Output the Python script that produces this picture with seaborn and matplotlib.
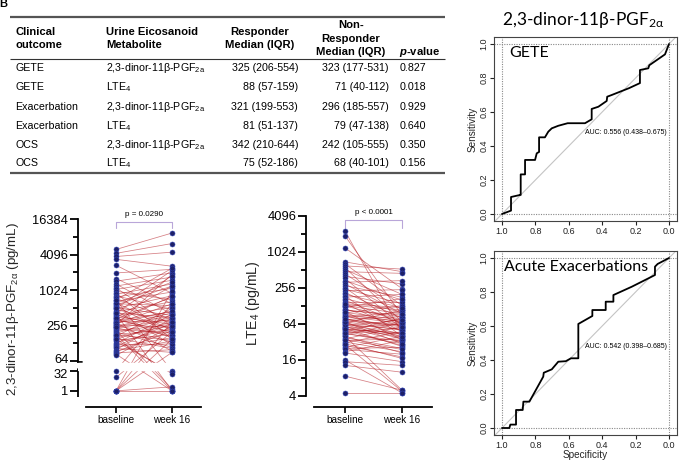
import numpy as np
import pandas as pd
import matplotlib
matplotlib.use("Agg")
import matplotlib.pyplot as plt
import matplotlib.transforms as mtrans
import seaborn as sns

# ---------------- data ----------------
tab_outcome = ["GETE", "GETE", "Exacerbation", "Exacerbation", "OCS", "OCS"]
PGF = r"2,3-dinor-11β-PGF$_{\mathregular{2a}}$"
LTE = r"LTE$_{\mathregular{4}}$"
tab_metab = [PGF, LTE, PGF, LTE, PGF, LTE]
tab_resp = ["325 (206-554)", "88 (57-159)", "321 (199-553)", "81 (51-137)", "342 (210-644)", "75 (52-186)"]
tab_nonresp = ["323 (177-531)", "71 (40-112)", "296 (185-557)", "79 (47-138)", "242 (105-555)", "68 (40-101)"]
tab_p = ["0.827", "0.018", "0.929", "0.640", "0.350", "0.156"]

time_labels = ["baseline", "week 16"]

pgf_base = [5000, 4300, 3800, 3400, 2700, 2000, 1600, 1450, 1300, 1200,
            1120, 1050, 980, 920, 870, 820, 780, 740, 700, 660,
            630, 600, 570, 545, 520, 500, 480, 460, 440, 420,
            405, 390, 375, 360, 345, 332, 320, 308, 296, 285,
            275, 265, 256, 247, 238, 230, 222, 214, 206, 198,
            190, 183, 176, 169, 162, 156, 150, 144, 138, 132,
            126, 120, 115, 110, 105, 100, 96, 92, 88, 84,
            80, 32, 10, 1, 1, 1, 1, 1, 1, 350,
            300, 280, 260, 240, 420, 500, 610, 700, 180, 150]
pgf_w16 = [9500, 6300, 4500, 2600, 900, 2300, 600, 2000, 400, 1700,
           250, 1500, 700, 150, 1300, 480, 1100, 320, 30, 950,
           210, 560, 1200, 180, 380, 820, 290, 120, 650, 350,
           1, 230, 520, 270, 160, 780, 200, 440, 310, 95,
           600, 240, 170, 420, 135, 330, 190, 1.4, 270, 110,
           360, 215, 145, 500, 260, 105, 300, 180, 24, 230,
           400, 125, 280, 160, 90, 340, 140, 210, 100, 1,
           250, 600, 200, 150, 90, 300, 1000, 1, 2, 1200,
           800, 450, 1900, 380, 1800, 2200, 1400, 2400, 1, 19]

lte_base = [2300, 1900, 1200, 700, 650, 600, 560, 520, 480, 440,
            400, 370, 340, 320, 300, 280, 260, 245, 230, 215,
            200, 190, 180, 170, 160, 150, 142, 135, 128, 121,
            115, 109, 103, 98, 93, 88, 84, 80, 76, 72,
            69, 66, 63, 60, 57, 55, 52, 50, 48, 46,
            44, 42, 40, 38, 36, 34, 32, 31, 29, 28,
            26, 25, 24, 22, 21, 16, 15, 13, 8.6, 4.5,
            90, 75, 65, 58, 110, 130, 54, 47, 62, 85,
            40, 30, 70, 100, 140, 35, 45, 52, 68, 78]
lte_w16 = [45, 90, 250, 480, 130, 530, 70, 200, 450, 110,
           300, 60, 160, 340, 95, 180, 55, 140, 240, 80,
           120, 40, 200, 100, 65, 150, 48, 110, 75, 170,
           58, 90, 35, 130, 70, 50, 100, 42, 85, 60,
           30, 110, 52, 75, 38, 64, 45, 28, 80, 55,
           33, 68, 5, 25, 58, 36, 22, 48, 4.8, 18,
           40, 26, 20, 34, 15, 4.5, 13, 10, 5, 4.5,
           70, 62, 40, 32, 85, 95, 27, 44, 36, 66,
           21, 17, 50, 74, 120, 24, 30, 46, 39, 57]

pgf_yticks = [1, 32, 64, 256, 1024, 4096, 16384]
lte_yticks = [4, 16, 64, 256, 1024, 4096]

gete_spec = [1.00, 0.946, 0.946, 0.892, 0.888, 0.888, 0.862, 0.862, 0.802, 0.792,
             0.778, 0.778, 0.743, 0.723, 0.702, 0.663, 0.607, 0.503, 0.463, 0.463,
             0.423, 0.373, 0.370, 0.343, 0.240, 0.174, 0.174, 0.124, 0.118, 0.024, 0.00]
gete_sens = [0.00, 0.020, 0.100, 0.112, 0.112, 0.233, 0.233, 0.318, 0.318, 0.357,
             0.365, 0.451, 0.451, 0.484, 0.504, 0.519, 0.534, 0.534, 0.557, 0.618,
             0.631, 0.665, 0.690, 0.700, 0.740, 0.770, 0.847, 0.857, 0.875, 0.939, 1.00]
exac_spec = [1.00, 0.956, 0.950, 0.916, 0.916, 0.876, 0.872, 0.836, 0.753, 0.750,
             0.702, 0.663, 0.618, 0.587, 0.543, 0.543, 0.459, 0.459, 0.379, 0.379,
             0.333, 0.333, 0.223, 0.124, 0.084, 0.084, 0.068, 0.00]
exac_sens = [0.00, 0.00, 0.02, 0.02, 0.106, 0.106, 0.155, 0.155, 0.302, 0.325,
             0.345, 0.39, 0.393, 0.41, 0.41, 0.612, 0.659, 0.694, 0.694, 0.743,
             0.743, 0.782, 0.831, 0.88, 0.90, 0.949, 0.965, 1.00]
roc_ticks = [1.0, 0.8, 0.6, 0.4, 0.2, 0.0]

# ---------------- style ----------------
sns.set_theme(style="ticks")
plt.rcParams["font.family"] = ["Liberation Sans", "DejaVu Sans"]
plt.rcParams["mathtext.fontset"] = "custom"
plt.rcParams["mathtext.rm"] = "Liberation Sans"
plt.rcParams["mathtext.it"] = "Liberation Sans:italic"
plt.rcParams["mathtext.bf"] = "Liberation Sans:bold"
try:
    plt.rcParams["mathtext.bfit"] = "Liberation Sans:italic:bold"
except Exception:
    pass
plt.rcParams["text.color"] = "black"
plt.rcParams["axes.edgecolor"] = "black"
plt.rcParams["xtick.color"] = "black"
plt.rcParams["ytick.color"] = "black"

W, H = 680, 462
fig = plt.figure(figsize=(W / 100, H / 100), dpi=100)


def px_axes(x0, y0, x1, y1):
    return fig.add_axes([x0 / W, 1 - y1 / H, (x1 - x0) / W, (y1 - y0) / H])


# ---------------- table ----------------
tab = fig.add_axes([0, 0, 1, 1])
tab.set_xlim(0, W)
tab.set_ylim(H, 0)
tab.axis("off")
tab.text(-1, -1, "B", fontsize=8, fontweight="bold", ha="left", va="top")
hfs = 8.1
rfs = 7.7
tab.hlines(17.3, 10, 445, color="#555555", lw=1.6)
tab.hlines(59, 10, 445, color="#333333", lw=0.8)
tab.hlines(173, 10, 445, color="#555555", lw=1.6)
for y, t in [(32, "Clinical"), (45, "outcome")]:
    tab.text(15, y, t, fontsize=hfs, fontweight="bold", va="center")
for y, t in [(32, "Urine Eicosanoid"), (45, "Metabolite")]:
    tab.text(106, y, t, fontsize=hfs, fontweight="bold", va="center")
for y, t in [(32, "Responder"), (45, "Median (IQR)")]:
    tab.text(260, y, t, fontsize=hfs, fontweight="bold", va="center", ha="center")
for y, t in [(25, "Non-"), (39, "Responder"), (52, "Median (IQR)")]:
    tab.text(351, y, t, fontsize=hfs, fontweight="bold", va="center", ha="center")
tab.text(399, 52, r"$\mathbfit{p}$-value", fontsize=hfs, fontweight="bold", va="center")
row_y = [68, 87, 107, 126, 144.5, 163.5]
for i, y in enumerate(row_y):
    tab.text(15, y, tab_outcome[i], fontsize=rfs, va="center")
    tab.text(106, y, tab_metab[i], fontsize=rfs, va="center")
    tab.text(298, y, tab_resp[i], fontsize=rfs, va="center", ha="right")
    tab.text(389, y, tab_nonresp[i], fontsize=rfs, va="center", ha="right")
    tab.text(400, y, tab_p[i], fontsize=rfs, va="center")

# ---------------- paired plots ----------------
RED = "#b3141c"
NAVY = "#1d2068"
EDGE = "#3548b8"

# broken log2 axis (GraphPad-like): 1..32 compressed, 64.. full
U32 = 6 - 9.5 / 17.6
U1 = 6 - 29.5 / 17.6
SL = (U32 - U1) / 5.0


def fwd(v):
    L = np.log2(np.clip(np.asarray(v, dtype=float), 1e-9, None))
    return np.where(L >= 6, L, np.where(L <= 5, U1 + SL * L, U32 + (L - 5) * (6 - U32)))


def inv(u):
    u = np.asarray(u, dtype=float)
    L = np.where(u >= 6, u, np.where(u <= U32, (u - U1) / SL, 5 + (u - U32) / (6 - U32)))
    return np.power(2.0, L)


def paired(ax, base, w16):
    n = len(base)
    df = pd.DataFrame({
        "id": np.r_[np.arange(n), np.arange(n)],
        "t": np.r_[np.zeros(n), np.ones(n)],
        "v": np.r_[np.asarray(base, float), np.asarray(w16, float)],
    })
    sns.lineplot(data=df, x="t", y="v", units="id", estimator=None, color=RED,
                 lw=0.55, alpha=0.55, ax=ax, legend=False, zorder=1)
    sns.scatterplot(data=df, x="t", y="v", color=NAVY, s=13, edgecolor=EDGE,
                    linewidth=0.4, ax=ax, legend=False, zorder=4, clip_on=False)


def style_paired(ax, xl, xr):
    ax.set_xlim(xl, xr)
    ax.set_xticks([0, 1], time_labels)
    ax.spines["top"].set_visible(False)
    ax.spines["right"].set_visible(False)
    ax.spines["bottom"].set_linewidth(1.3)
    ax.spines["left"].set_linewidth(1.3)
    ax.tick_params(axis="x", labelsize=7.2, length=4, width=1.2, pad=2)
    ax.tick_params(axis="y", which="major", labelsize=9.3, length=6, width=1.3, pad=1)
    ax.tick_params(axis="y", which="minor", length=3.5, width=1.3)
    ax.set_xlabel("")


# panel 1: PGF
ax1 = px_axes(78, 212, 201, 407)
ax1.set_yscale("function", functions=(fwd, inv))
paired(ax1, pgf_base, pgf_w16)
xl1 = -(116 - 78) / 56.0
xr1 = 1 + (201 - 172) / 56.0
style_paired(ax1, xl1, xr1)
ax1.set_ylim(float(inv(U1 - 16 / 17.6)), float(inv(14 + 7 / 17.6)))
ax1.set_yticks(pgf_yticks, [str(t) for t in pgf_yticks])
ax1.set_yticks([128, 512, 2048, 8192], minor=True)
ax1.yaxis.set_minor_formatter(matplotlib.ticker.NullFormatter())
# nudge the crowded 64 / 32 labels apart a little
for lab, dy in zip(ax1.get_yticklabels(), [0, -1.8, 1.8, 0, 0, 0, 0]):
    if dy:
        lab.set_transform(lab.get_transform() + mtrans.ScaledTranslation(0, dy / 72.0, fig.dpi_scale_trans))
ax1.spines["left"].set_visible(False)
ax1.spines["bottom"].set_bounds(xl1 + 8 / 56.0, xr1)
ytr = ax1.get_yaxis_transform()
ax1.plot([0, 0], [58, 16384], transform=ytr, color="black", lw=1.3, clip_on=False,
         solid_capstyle="projecting")
ax1.plot([0, 0], [0.35, 37], transform=ytr, color="black", lw=1.3, clip_on=False,
         solid_capstyle="butt")
ax1.plot([0, 0.035], [58, 58], transform=ytr, color="black", lw=1.3, clip_on=False)
ax1.plot([0, 0.035], [37, 37], transform=ytr, color="black", lw=1.3, clip_on=False)
ax1.axhspan(34, 55, color="white", zorder=2)
ax1.set_ylabel(r"2,3-dinor-11β-PGF$_{\mathregular{2α}}$ (pg/mL)", fontsize=9.6)
ax1.yaxis.set_label_coords((21 - 78) / 123.0, 0.5)
bt = ax1.get_xaxis_transform()
ax1.plot([0, 0, 1, 1], [0.918, 0.949, 0.949, 0.918], transform=bt, color="#b9a6d9", lw=0.8, clip_on=False)
ax1.text(0.5, 0.985, "p = 0.0290", transform=bt, ha="center", va="center", fontsize=5.8)

# panel 2: LTE4
ax2 = px_axes(306, 208, 432, 407)
ax2.set_yscale("log", base=2)
paired(ax2, lte_base, lte_w16)
xl2 = -(345 - 306) / 57.0
xr2 = 1 + (432 - 402) / 57.0
style_paired(ax2, xl2, xr2)
ax2.set_ylim(2 ** (2 - 11 / 18.0), 2 ** (12 + 8 / 18.0))
ax2.set_yticks(lte_yticks, [str(t) for t in lte_yticks])
ax2.set_yticks([8, 32, 128, 512, 2048], minor=True)
ax2.yaxis.set_minor_formatter(matplotlib.ticker.NullFormatter())
ax2.spines["left"].set_bounds(4, 4096)
ax2.spines["bottom"].set_bounds(xl2 + 8 / 57.0, xr2)
ax2.set_ylabel(r"LTE$_{\mathregular{4}}$ (pg/mL)", fontsize=10.2)
ax2.yaxis.set_label_coords((262 - 306) / 126.0, 0.52)
bt2 = ax2.get_xaxis_transform()
ax2.plot([0, 0, 1, 1], [0.9, 0.94, 0.94, 0.9], transform=bt2, color="#b9a6d9", lw=0.8, clip_on=False)
ax2.text(0.5, 0.975, "p < 0.0001", transform=bt2, ha="center", va="center", fontsize=5.8)

# ---------------- ROC curves ----------------
def roc(ax, spec, sens, label, auc, xlabel):
    ax.axline((1, 0), (0, 1), color="#c4c4c4", lw=0.8, zorder=1)
    for v in (0, 1):
        ax.axvline(v, color="#888888", ls=(0, (1, 1.2)), lw=0.8, zorder=1)
        ax.axhline(v, color="#888888", ls=(0, (1, 1.2)), lw=0.8, zorder=1)
    df = pd.DataFrame({"spec": spec, "sens": sens})
    sns.lineplot(data=df, x="spec", y="sens", sort=False, estimator=None,
                 color="black", lw=1.3, ax=ax, zorder=3)
    ax.set_xlim(1 + 8 / 167.0, -8 / 167.0)
    ax.set_ylim(-7 / 170.0, 1 + 7 / 170.0)
    ax.set_xticks(roc_ticks, [f"{t:.1f}" for t in roc_ticks])
    ax.set_yticks(roc_ticks[::-1], [f"{t:.1f}" for t in roc_ticks[::-1]])
    ax.tick_params(axis="both", labelsize=6.5, length=3, width=0.8, pad=1.2, colors="#222222")
    for lab in ax.get_yticklabels():
        lab.set_rotation(90)
        lab.set_va("center")
    for s in ax.spines.values():
        s.set_visible(True)
        s.set_linewidth(0.8)
        s.set_color("#444444")
    ax.set_ylabel("Sensitivity", fontsize=7.2)
    ax.yaxis.set_label_coords((478 - 494) / 183.0, 0.5)
    if xlabel:
        ax.set_xlabel("Specificity", fontsize=7.2)
        ax.xaxis.set_label_coords(0.5, (435 - 450) / 184.0)
    else:
        ax.set_xlabel("")
    ax.text(label[1], 0.947, label[0], fontsize=11.5, family=["Lato", "DejaVu Sans"],
            ha="left", va="center", zorder=5)
    ax.text(0.503, 0.48, auc, fontsize=5, ha="left", va="center", zorder=5)


r1 = px_axes(494, 37, 677, 221)
roc(r1, gete_spec, gete_sens, ("GETE", 0.955), "AUC: 0.556 (0.438–0.675)", False)
r2 = px_axes(494, 251, 677, 435)
roc(r2, exac_spec, exac_sens, ("Acute Exacerbations", 0.99), "AUC: 0.542 (0.398–0.685)", True)

fig.text(583 / W, 1 - 20 / H, r"2,3-dinor-11β-PGF$_{\mathregular{2α}}$", fontsize=12.5,
         family=["Lato", "DejaVu Sans"], ha="center", va="center")

fig.savefig("out.png", dpi=100)
